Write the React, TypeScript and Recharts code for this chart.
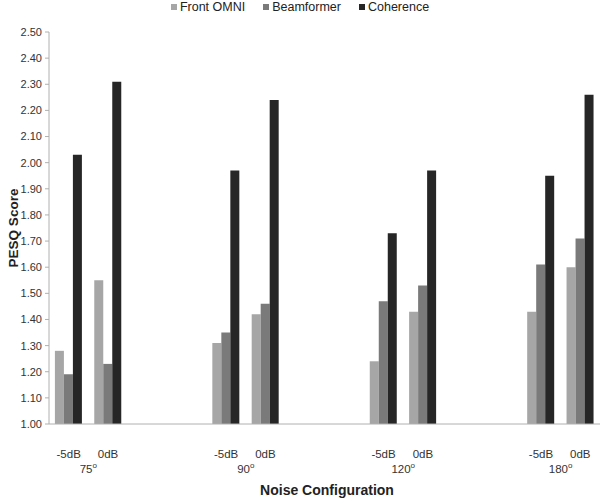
import React from 'react';
import { BarChart, Bar, XAxis, YAxis, Legend } from 'recharts';

// angle groups and noise levels along the x axis
const angleGroups = ['75', '90', '120', '180'];
const noiseLevels = ['-5dB', '0dB'];

// PESQ scores, ordered 75/-5, 75/0, 90/-5, 90/0, 120/-5, 120/0, 180/-5, 180/0
const frontOmni = [1.28, 1.55, 1.31, 1.42, 1.24, 1.43, 1.43, 1.60];
const beamformer = [1.19, 1.23, 1.35, 1.46, 1.47, 1.53, 1.61, 1.71];
const coherence = [2.03, 2.31, 1.97, 2.24, 1.73, 1.97, 1.95, 2.26];

const yTicks = [1.0, 1.1, 1.2, 1.3, 1.4, 1.5, 1.6, 1.7, 1.8, 1.9, 2.0, 2.1, 2.2, 2.3, 2.4, 2.5];

const seriesNames = ['Front OMNI', 'Beamformer', 'Coherence'];
const seriesColors = ['#a6a6a6', '#7a7a7a', '#262626'];

const FONT = '"Liberation Sans", Arial, sans-serif';

type Row = {
  id: string;
  level: string;
  group: string;
  omni: number | null;
  beam: number | null;
  coh: number | null;
};

// two blank slots separate each angle group
const data: Row[] = [];
angleGroups.forEach((g, gi) => {
  noiseLevels.forEach((l, li) => {
    const k = gi * noiseLevels.length + li;
    data.push({ id: `${g}-${l}`, level: l, group: li === 1 ? g : '', omni: frontOmni[k], beam: beamformer[k], coh: coherence[k] });
  });
  if (gi < angleGroups.length - 1) {
    data.push({ id: `gap-${gi}-a`, level: '', group: '', omni: null, beam: null, coh: null });
    data.push({ id: `gap-${gi}-b`, level: '', group: '', omni: null, beam: null, coh: null });
  }
});

const CustomTick = (props: any) => {
  const { x, y, payload } = props;
  const row = data[payload.index];
  if (!row) return null;
  const half = (payload.offset as number) || 19.7;
  return (
    <g>
      {row.level && (
        <text x={x} y={y} dy={26} textAnchor="middle" fontFamily={FONT} fontSize={11.5} fill="#333">
          {row.level}
        </text>
      )}
      {row.group && (
        <text x={x - half} y={y} dy={41} textAnchor="middle" fontFamily={FONT} fontSize={11.5} fill="#333">
          {row.group}
          <tspan fontSize={8} dy={-5}>o</tspan>
        </text>
      )}
    </g>
  );
};

const renderLegend = () => (
  <div style={{ display: 'flex', justifyContent: 'center', fontFamily: FONT, fontSize: 12.5, color: '#222' }}>
    {seriesNames.map((name, i) => (
      <div key={name} style={{ display: 'flex', alignItems: 'center', marginRight: i < seriesNames.length - 1 ? 18 : 0 }}>
        <span style={{ display: 'inline-block', width: 6, height: 6, background: seriesColors[i], marginRight: 3 }} />
        <span>{name}</span>
      </div>
    ))}
  </div>
);

export default function App() {
  return (
    <div style={{ position: 'absolute', left: 0, top: 0, width: 600, height: 504, background: '#fff' }}>
      <BarChart
        width={600}
        height={504}
        data={data}
        margin={{ top: 32, right: 0, bottom: 0, left: 0 }}
        barCategoryGap="15%"
        barGap={0}
      >
        <XAxis
          dataKey="id"
          type="category"
          height={80}
          interval={0}
          axisLine={{ stroke: '#b0b0b0' }}
          tickLine={false}
          tick={<CustomTick />}
          label={{
            content: () => (
              <text x={327} y={495} textAnchor="middle" fontFamily={FONT} fontSize={14} fontWeight="bold" fill="#222">
                Noise Configuration
              </text>
            ),
          }}
        />
        <YAxis
          width={49}
          domain={[1, 2.5]}
          ticks={yTicks}
          allowDataOverflow
          interval={0}
          tickFormatter={(v: number) => v.toFixed(2)}
          axisLine={{ stroke: '#b0b0b0' }}
          tickLine={{ stroke: '#b0b0b0' }}
          tickSize={4}
          tickMargin={3}
          tick={{ fontFamily: FONT, fontSize: 11, fill: '#333' }}
          label={{
            content: () => (
              <text x={13} y={228} dy={5} transform="rotate(-90 13 228)" textAnchor="middle" fontFamily={FONT} fontSize={13.5} fontWeight="bold" fill="#222">
                PESQ Score
              </text>
            ),
          }}
        />
        <Legend verticalAlign="middle" content={renderLegend} wrapperStyle={{ top: 0, left: 0, width: 600 }} />
        <Bar dataKey="omni" name={seriesNames[0]} fill={seriesColors[0]} isAnimationActive={false} />
        <Bar dataKey="beam" name={seriesNames[1]} fill={seriesColors[1]} isAnimationActive={false} />
        <Bar dataKey="coh" name={seriesNames[2]} fill={seriesColors[2]} isAnimationActive={false} />
      </BarChart>
    </div>
  );
}
